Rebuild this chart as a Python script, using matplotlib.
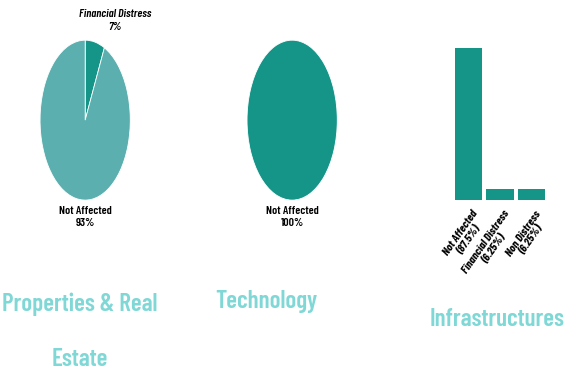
import matplotlib
matplotlib.use("Agg")
import matplotlib.pyplot as plt

plt.rcParams['font.family'] = ['Barlow Condensed', 'Roboto Condensed', 'Liberation Sans Narrow', 'DejaVu Sans']

# sector data
re_labels = ["Financial Distress", "Not Affected"]
re_values = [7, 93]
tech_labels = ["Not Affected"]
tech_values = [100]
infra_labels = ["Not Affected", "Financial Distress", "Non Distress"]
infra_values = [87.5, 6.25, 6.25]
titles = ["Properties & Real\n\nEstate", "Technology", "Infrastructures"]

dark = "#159488"
light = "#5BAFAF"
title_col = "#80D8D6"

fig = plt.figure(figsize=(5.64, 3.79), dpi=100)

# properties pie
ax1 = fig.add_axes([0.071, 0.472, 0.16, 0.422])
ax1.pie(re_values, colors=[dark, light], startangle=90, counterclock=False,
        wedgeprops=dict(edgecolor="white", linewidth=0.6))
ax1.set_aspect("auto")
ax1.set_xlim(-1, 1)
ax1.set_ylim(-1, 1)
fig.text(0.204, 0.962, re_labels[0], ha="center", va="center", fontsize=8.5,
         style="italic", fontweight="semibold")
fig.text(0.204, 0.928, f"{re_values[0]}%", ha="center", va="center", fontsize=8.5,
         style="italic", fontweight="semibold")
fig.text(0.151, 0.443, re_labels[1], ha="center", va="center", fontsize=8.5,
         fontweight="semibold")
fig.text(0.151, 0.411, f"{re_values[1]}%", ha="center", va="center", fontsize=8.5,
         fontweight="semibold")

# technology pie
ax2 = fig.add_axes([0.438, 0.472, 0.16, 0.422])
ax2.pie(tech_values, colors=[dark], startangle=90, counterclock=False,
        wedgeprops=dict(edgecolor="white", linewidth=0.6))
ax2.set_aspect("auto")
ax2.set_xlim(-1, 1)
ax2.set_ylim(-1, 1)
fig.text(0.518, 0.443, tech_labels[0], ha="center", va="center", fontsize=8.5,
         fontweight="semibold")
fig.text(0.518, 0.411, f"{tech_values[0]}%", ha="center", va="center", fontsize=8.5,
         fontweight="semibold")

# infrastructures bars
ax3 = fig.add_axes([0.803, 0.472, 0.167, 0.401])
x = range(len(infra_values))
ax3.bar(x, infra_values, width=0.87, color=dark)
ax3.set_xlim(-0.5, len(infra_values) - 0.5)
ax3.set_ylim(0, max(infra_values))
ax3.axis("off")
for i, (lab, v) in enumerate(zip(infra_labels, infra_values)):
    ax3.text(i + 0.1, -5, f"{lab}\n({v:g}%)", ha="right", va="top",
             rotation=55, rotation_mode="anchor", fontsize=8.5,
             style="italic", fontweight="bold", linespacing=0.95,
             multialignment="center")

# sector titles
fig.text(0.142, 0.125, titles[0], ha="center", va="center", fontsize=18,
         color=title_col, fontweight="semibold", linespacing=1.25)
fig.text(0.472, 0.205, titles[1], ha="center", va="center", fontsize=18,
         color=title_col, fontweight="semibold")
fig.text(0.881, 0.158, titles[2], ha="center", va="center", fontsize=18,
         color=title_col, fontweight="semibold")

fig.savefig("out.png", dpi=100)
